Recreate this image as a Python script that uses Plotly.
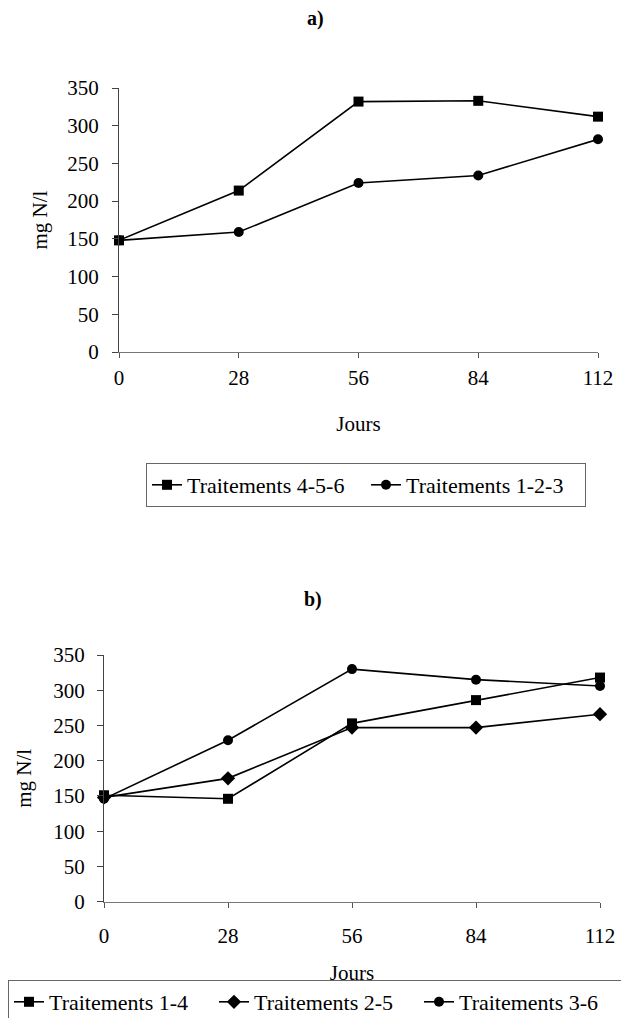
import plotly.graph_objects as go

# page is 629x1018; plotly page body has an 8px margin, so the figure is drawn 8px in
PAGE_W, PAGE_H = 629, 1018
OFF = 8
W, H = PAGE_W - OFF, PAGE_H - OFF

jours = [0, 28, 56, 84, 112]
y_ticks = [0, 50, 100, 150, 200, 250, 300, 350]

# Panel a
a_t456 = [148, 214, 332, 333, 312]
a_t123 = [148, 159, 224, 234, 282]
# Panel b
b_t14 = [151, 146, 253, 286, 318]
b_t25 = [148, 175, 247, 247, 266]
b_t36 = [146, 229, 330, 315, 306]

FONT = "Liberation Serif"
fig = go.Figure()

def add(x, y, name, symbol, size, xa, ya, legend):
    fig.add_trace(go.Scatter(
        x=x, y=y, name=name, mode="lines+markers",
        line=dict(color="black", width=1.6),
        marker=dict(symbol=symbol, size=size, color="black"),
        xaxis=xa, yaxis=ya, legend=legend, cliponaxis=False))

add(jours, a_t456, "Traitements 4-5-6", "square", 10, "x", "y", "legend")
add(jours, a_t123, "Traitements 1-2-3", "circle", 10, "x", "y", "legend")
add(jours, b_t14, "Traitements 1-4", "square", 10, "x2", "y2", "legend2")
add(jours, b_t25, "Traitements 2-5", "diamond", 11, "x2", "y2", "legend2")
add(jours, b_t36, "Traitements 3-6", "circle", 10, "x2", "y2", "legend2")

def px_x(p):
    return max(0.0, (p - OFF) / W)

def px_y(p):
    return min(1.0, 1 - (p - OFF) / H)

TF = dict(family=FONT, size=21, color="black")
xcommon = dict(range=[0, 112], tickvals=jours, showgrid=False, zeroline=False,
               showline=True, linecolor="#777", linewidth=1, ticks="outside",
               ticklen=5, tickcolor="#555", tickfont=TF, title_font=TF)
ycommon = dict(range=[0, 350], tickvals=y_ticks, showgrid=False, zeroline=False,
               showline=True, linecolor="#444", linewidth=1, ticks="outside",
               ticklen=6, tickcolor="#444", tickfont=TF, title_font=TF)

LF = dict(family=FONT, size=22, color="black")
fig.update_layout(
    width=W, height=H, margin=dict(l=0, r=0, t=0, b=0, autoexpand=False),
    paper_bgcolor="white", plot_bgcolor="white",
    font=TF,
    xaxis=dict(xcommon, domain=[px_x(119), px_x(598)], anchor="y",
               title=dict(text="Jours", standoff=27), ticklabelstandoff=2),
    yaxis=dict(ycommon, domain=[px_y(352), px_y(88)], anchor="x",
               title=dict(text="mg N/l", standoff=13), ticklabelstandoff=9),
    xaxis2=dict(xcommon, domain=[px_x(104), px_x(600)], anchor="y2",
                title=dict(text="Jours", standoff=18), ticklabelstandoff=10),
    yaxis2=dict(ycommon, domain=[px_y(901.7), px_y(655)], anchor="x2",
                title=dict(text="mg N/l", standoff=15), ticklabelstandoff=8),
    legend=dict(orientation="h", x=px_x(146), y=px_y(463), xanchor="left", yanchor="top",
                bordercolor="#666", borderwidth=1, font=LF, bgcolor="rgba(0,0,0,0)",
                entrywidth=174),
    legend2=dict(orientation="h", x=px_x(0), y=px_y(980), xanchor="left", yanchor="top",
                 bordercolor="#666", borderwidth=1, font=LF, bgcolor="rgba(0,0,0,0)",
                 entrywidth=160),
    showlegend=True,
    annotations=[
        dict(text="<b>a)</b>", x=px_x(315), y=px_y(18), xref="paper", yref="paper",
             xanchor="center", yanchor="middle", showarrow=False,
             font=dict(family=FONT, size=20, color="black")),
        dict(text="<b>b)</b>", x=px_x(313), y=px_y(599), xref="paper", yref="paper",
             xanchor="center", yanchor="middle", showarrow=False,
             font=dict(family=FONT, size=20, color="black")),
    ],
)

fig.write_html("out.html")
